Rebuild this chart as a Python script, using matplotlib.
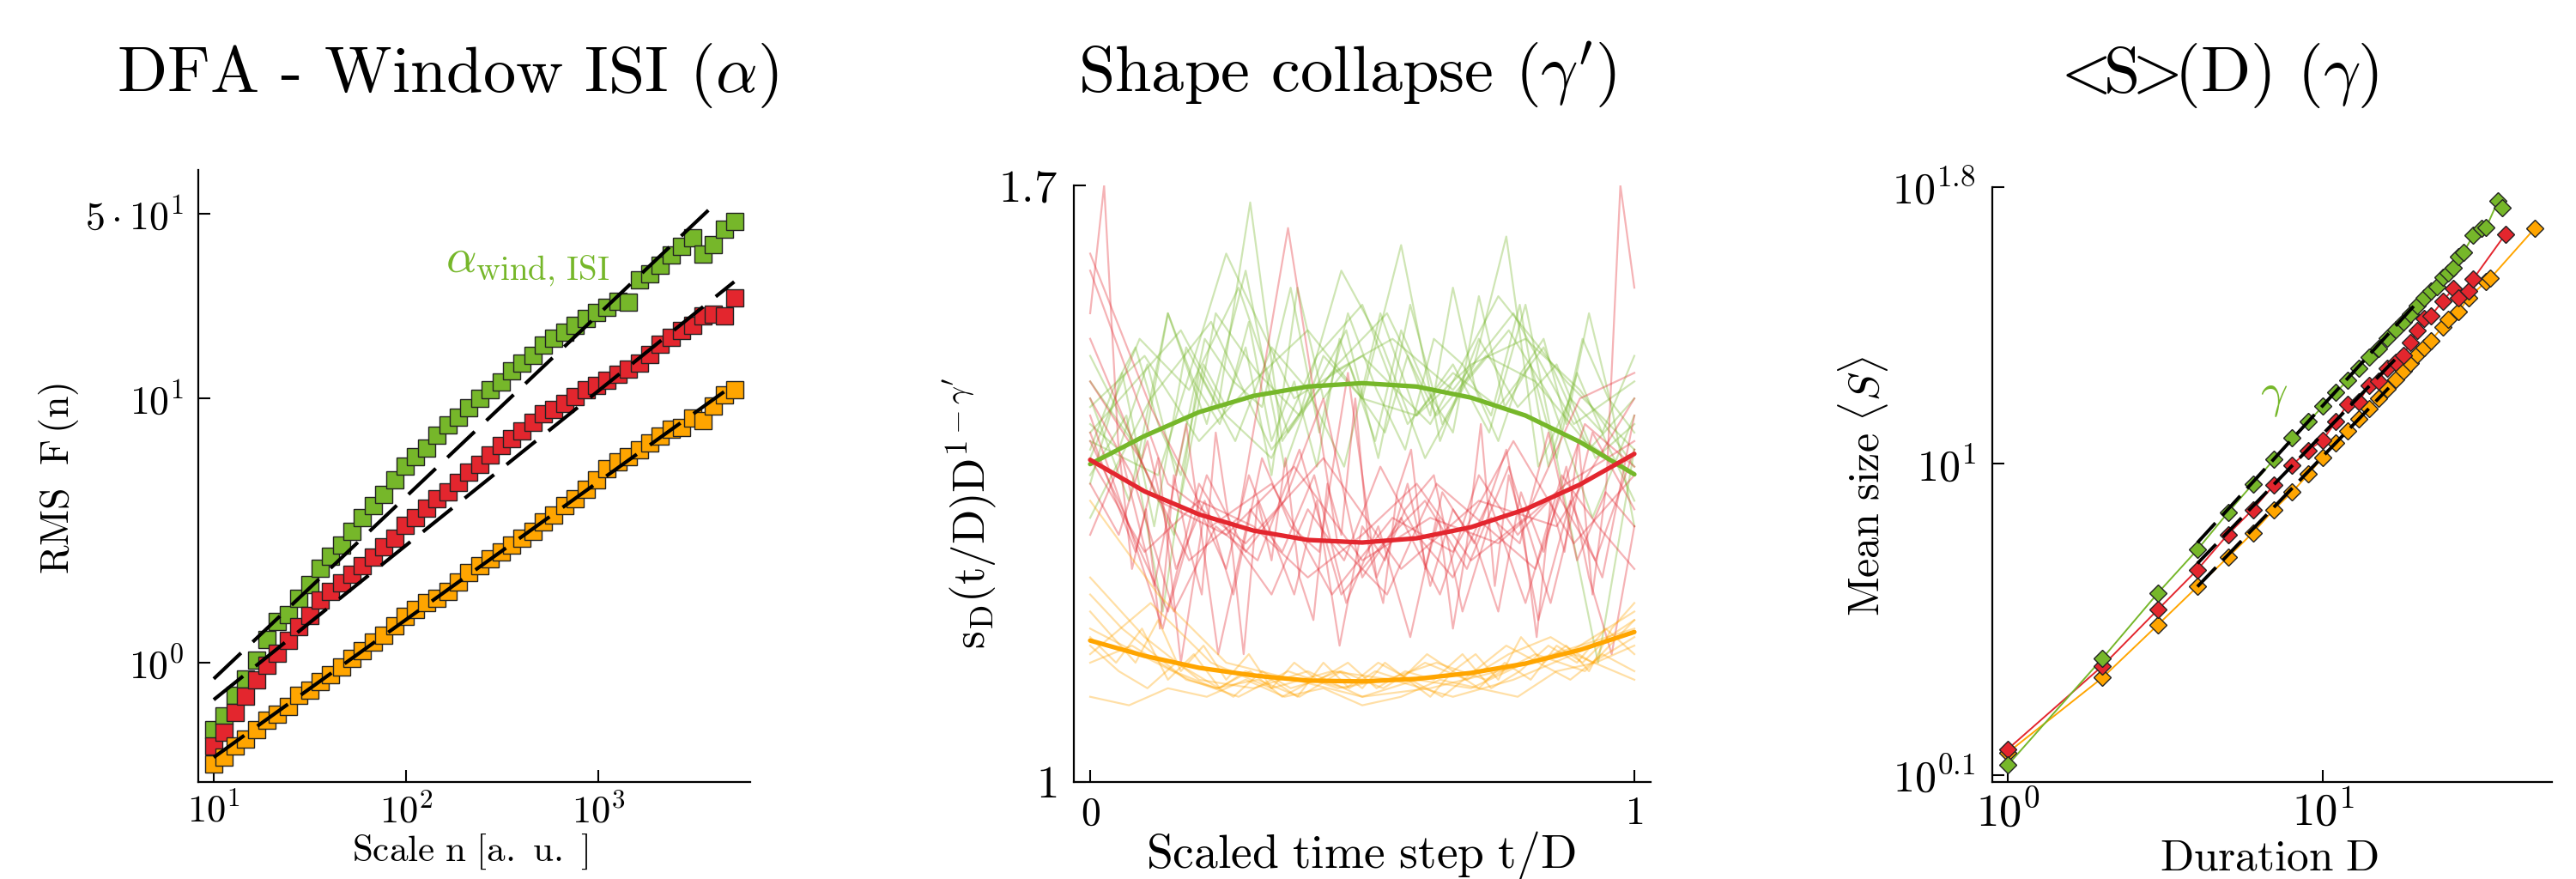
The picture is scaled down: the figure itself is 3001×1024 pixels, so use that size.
import numpy as np
import matplotlib
matplotlib.use("Agg")
import matplotlib.pyplot as plt
from matplotlib.ticker import NullLocator

plt.rcParams['font.family'] = 'cmr10'
plt.rcParams['mathtext.fontset'] = 'cm'
plt.rcParams['axes.unicode_minus'] = False
plt.rcParams['axes.formatter.use_mathtext'] = True

GREEN = '#76b72a'
RED = '#e3262e'
ORANGE = '#ffa500'

# ---------------- Panel 1: DFA ----------------
dfa_scales = [10, 11.36, 12.90, 14.65, 16.64, 18.90, 21.47, 24.39, 27.70, 31.46,
              35.73, 40.58, 46.10, 52.36, 59.47, 67.54, 76.72, 87.13, 98.97, 112.4,
              127.7, 145.0, 164.7, 187.1, 212.5, 241.4, 274.1, 311.4, 353.7, 401.7,
              456.2, 518.2, 588.6, 668.5, 759.3, 862.4, 979.5, 1113, 1264, 1435,
              1630, 1852, 2103, 2389, 2713, 3082, 3500, 3976, 4516, 5129]
dfa_green_log10F = [-0.253, -0.201, -0.122, -0.061, 0.009, 0.087, 0.157, 0.183, 0.245, 0.297,
                    0.358, 0.402, 0.446, 0.498, 0.550, 0.594, 0.638, 0.690, 0.743, 0.778,
                    0.813, 0.860, 0.900, 0.930, 0.965, 1.000, 1.034, 1.062, 1.104, 1.132,
                    1.162, 1.202, 1.227, 1.249, 1.276, 1.302, 1.324, 1.345, 1.366, 1.363,
                    1.447, 1.471, 1.503, 1.541, 1.576, 1.608, 1.546, 1.581, 1.639, 1.669]
dfa_red_log10F = [-0.315, -0.262, -0.189, -0.126, -0.066, -0.009, 0.035, 0.084, 0.136, 0.178,
                  0.236, 0.271, 0.301, 0.335, 0.367, 0.398, 0.437, 0.472, 0.521, 0.550,
                  0.585, 0.620, 0.647, 0.681, 0.720, 0.751, 0.786, 0.821, 0.847, 0.877,
                  0.909, 0.940, 0.958, 0.982, 1.005, 1.031, 1.048, 1.069, 1.092, 1.110,
                  1.132, 1.167, 1.206, 1.232, 1.258, 1.276, 1.311, 1.319, 1.311, 1.380]
dfa_orange_log10F = [-0.384, -0.358, -0.315, -0.288, -0.253, -0.218, -0.196, -0.166, -0.122, -0.105,
                     -0.070, -0.044, -0.017, 0.017, 0.044, 0.079, 0.105, 0.140, 0.175, 0.201,
                     0.227, 0.245, 0.271, 0.306, 0.341, 0.367, 0.393, 0.419, 0.446, 0.472,
                     0.498, 0.533, 0.559, 0.594, 0.620, 0.655, 0.690, 0.734, 0.760, 0.778,
                     0.804, 0.830, 0.856, 0.882, 0.891, 0.926, 0.917, 0.970, 1.013, 1.031]
dfa_fit_alpha = [0.689, 0.584, 0.521]
dfa_fit_log10F_at_10 = [-0.061, -0.140, -0.358]
dfa_fit_n_end = [4140, 5090, 4800]

# ---------------- Panel 2: shape collapse ----------------
shape_t = [0.0, 0.1, 0.2, 0.3, 0.4, 0.5, 0.6, 0.7, 0.8, 0.9, 1.0]
shape_green_mean = [1.373, 1.406, 1.434, 1.453, 1.464, 1.468, 1.464, 1.451, 1.430, 1.399, 1.361]
shape_red_mean = [1.378, 1.341, 1.314, 1.295, 1.284, 1.281, 1.286, 1.299, 1.320, 1.349, 1.385]
shape_orange_mean = [1.166, 1.148, 1.134, 1.125, 1.119, 1.118, 1.121, 1.128, 1.139, 1.155, 1.176]

shape_green_traces = [
    [1.38, 1.52, 1.46, 1.58, 1.41, 1.49, 1.55, 1.43, 1.50, 1.47, 1.40, 1.36],
    [1.45, 1.33, 1.55, 1.42, 1.60, 1.37, 1.50, 1.45, 1.63, 1.40, 1.52, 1.44, 1.49, 1.38, 1.42],
    [1.40, 1.36, 1.62, 1.45, 1.50, 1.42, 1.57, 1.47, 1.39],
    [1.35, 1.48, 1.30, 1.51, 1.44, 1.68, 1.40, 1.46, 1.53, 1.38, 1.56, 1.42, 1.49, 1.64, 1.37, 1.45, 1.41, 1.50],
    [1.42, 1.39, 1.49, 1.36, 1.52, 1.47, 1.44, 1.58, 1.41, 1.55, 1.46, 1.39, 1.52, 1.49, 1.43, 1.56, 1.37, 1.48, 1.40, 1.33],
    [1.31, 1.45, 1.54, 1.39, 1.48, 1.52, 1.46, 1.55, 1.42, 1.47],
    [1.47, 1.40, 1.29, 1.55, 1.48, 1.43, 1.60, 1.51, 1.38, 1.47, 1.53, 1.45, 1.31, 1.43],
    [1.50, 1.44, 1.38, 1.55, 1.47, 1.42, 1.51, 1.36, 1.58, 1.45, 1.49, 1.40, 1.53, 1.46, 1.41, 1.57, 1.44, 1.49, 1.38, 1.52, 1.45, 1.41],
    [1.36, 1.43, 1.20, 1.48, 1.40, 1.51, 1.46, 1.37, 1.55, 1.43, 1.49, 1.41, 1.56, 1.35, 1.14, 1.39],
    [1.44, 1.50, 1.40, 1.47, 1.53, 1.45, 1.43, 1.49, 1.52, 1.46, 1.37],
    [1.41, 1.47, 1.53, 1.43, 1.38, 1.50, 1.56, 1.42, 1.48, 1.44, 1.51, 1.39, 1.45],
    [1.39, 1.46, 1.51, 1.42, 1.36, 1.49, 1.44, 1.54, 1.40, 1.47, 1.37, 1.52, 1.45, 1.41, 1.50, 1.43, 1.58, 1.46, 1.40, 1.48, 1.52, 1.42, 1.55, 1.44, 1.30],
]
shape_red_traces = [
    [1.62, 1.44, 1.30, 1.35, 1.22, 1.31, 1.27, 1.40, 1.28, 1.36],
    [1.55, 1.70, 1.40, 1.25, 1.32, 1.18, 1.36, 1.28, 1.22, 1.41, 1.30, 1.15, 1.33, 1.26, 1.38, 1.24, 1.19, 1.35, 1.29, 1.45,
     1.27, 1.21, 1.34, 1.39, 1.25, 1.31, 1.18, 1.28, 1.42, 1.23, 1.36, 1.30, 1.17, 1.33, 1.27, 1.40, 1.22, 1.35, 1.70, 1.58],
    [1.60, 1.35, 1.28, 1.38, 1.25, 1.33, 1.30, 1.45],
    [1.43, 1.30, 1.20, 1.36, 1.27, 1.33, 1.45, 1.24, 1.31, 1.22, 1.36, 1.29, 1.34, 1.26, 1.39],
    [1.47, 1.38, 1.26, 1.31, 1.65, 1.28, 1.22, 1.35, 1.30, 1.25, 1.42, 1.37],
    [1.35, 1.29, 1.40, 1.25, 1.33, 1.22, 1.38, 1.30, 1.27, 1.48, 1.24, 1.32, 1.36, 1.20, 1.31, 1.28, 1.41, 1.26, 1.34, 1.30],
    [1.29, 1.38, 1.23, 1.42, 1.15, 1.32, 1.27, 1.36, 1.21, 1.30, 1.17, 1.34, 1.28, 1.39, 1.19, 1.33, 1.24, 1.43],
    [1.52, 1.33, 1.29, 1.37, 1.26, 1.31, 1.28, 1.35, 1.40],
    [1.45, 1.36, 1.20, 1.30, 1.26, 1.39, 1.22, 1.28, 1.33, 1.25, 1.37, 1.21, 1.41, 1.32],
    [1.41, 1.34, 1.27, 1.38, 1.14, 1.31, 1.25, 1.36, 1.29, 1.22, 1.33, 1.16, 1.30, 1.26, 1.35, 1.23, 1.32, 1.28, 1.20, 1.34, 1.27, 1.37, 1.24, 1.15, 1.30],
    [1.38, 1.27, 1.33, 1.30, 1.24, 1.29, 1.35, 1.26, 1.31, 1.45, 1.48],
    [1.40, 1.31, 1.18, 1.35, 1.28, 1.22, 1.32, 1.26, 1.37, 1.29, 1.24, 1.33, 1.21, 1.36, 1.30, 1.25],
]
shape_orange_traces = [
    [1.18, 1.15, 1.12, 1.10, 1.13, 1.11, 1.12, 1.14, 1.12, 1.15, 1.13, 1.19],
    [1.16, 1.13, 1.11, 1.14, 1.12, 1.10, 1.13, 1.11, 1.12, 1.14, 1.11, 1.13, 1.12, 1.15, 1.11, 1.13, 1.16, 1.14, 1.18, 1.15],
    [1.33, 1.22, 1.14, 1.12, 1.10, 1.11, 1.13, 1.15, 1.20],
    [1.10, 1.09, 1.11, 1.10, 1.12, 1.10, 1.11, 1.09, 1.10, 1.12, 1.11, 1.10, 1.13, 1.14, 1.16],
    [1.20, 1.17, 1.14, 1.19, 1.13, 1.16, 1.12, 1.15, 1.11, 1.14, 1.12, 1.13, 1.11, 1.14, 1.12, 1.10, 1.13, 1.15, 1.12, 1.17, 1.14, 1.16, 1.13, 1.18, 1.21],
    [1.15, 1.21, 1.14, 1.11, 1.13, 1.12, 1.10, 1.12, 1.15, 1.12],
    [1.22, 1.18, 1.15, 1.12, 1.11, 1.13, 1.10, 1.12, 1.11, 1.14, 1.12, 1.10, 1.13, 1.16, 1.14, 1.12, 1.15, 1.13],
    [1.14, 1.16, 1.13, 1.11, 1.12, 1.10, 1.13, 1.11, 1.14, 1.12, 1.15, 1.17, 1.14, 1.17],
    [1.17, 1.14, 1.18, 1.12, 1.15, 1.11, 1.13, 1.12, 1.10, 1.14, 1.11, 1.13, 1.12, 1.15, 1.13, 1.11, 1.14, 1.12, 1.16, 1.14, 1.17, 1.19],
    [1.24, 1.17, 1.12, 1.11, 1.13, 1.10, 1.12, 1.11, 1.14, 1.16, 1.18],
]

# ---------------- Panel 3: <S>(D) ----------------
size_green_D = [1, 2, 3, 4, 5, 6, 7, 8, 9, 10, 11, 12, 13, 14, 15, 16, 17, 18, 19, 20,
                21, 22, 23, 24, 25, 26, 27, 28, 30, 32, 33, 36, 37]
size_green_log10S = [0.129, 0.438, 0.627, 0.752, 0.859, 0.942, 1.013, 1.076, 1.122, 1.166,
                     1.206, 1.242, 1.277, 1.309, 1.333, 1.362, 1.388, 1.410, 1.433, 1.458,
                     1.480, 1.500, 1.513, 1.540, 1.553, 1.567, 1.600, 1.612, 1.660, 1.680,
                     1.683, 1.760, 1.740]
size_red_D = [1, 2, 3, 4, 5, 6, 7, 8, 9, 10, 11, 12, 13, 14, 15, 16, 17, 18, 19, 20,
              21, 22, 24, 26, 27, 29, 30, 38]
size_red_log10S = [0.175, 0.416, 0.579, 0.694, 0.796, 0.868, 0.939, 0.997, 1.039, 1.069,
                   1.122, 1.173, 1.179, 1.226, 1.240, 1.277, 1.293, 1.313, 1.352, 1.385,
                   1.420, 1.427, 1.470, 1.507, 1.480, 1.500, 1.534, 1.664]
size_orange_D = [1, 2, 3, 4, 5, 6, 7, 8, 9, 10, 11, 12, 13, 14, 15, 16, 17, 18, 19, 20,
                 21, 22, 24, 25, 27, 29, 33, 34, 47]
size_orange_log10S = [0.165, 0.382, 0.535, 0.645, 0.730, 0.801, 0.868, 0.919, 0.970, 1.019,
                      1.060, 1.096, 1.130, 1.160, 1.190, 1.218, 1.245, 1.268, 1.292, 1.315,
                      1.336, 1.356, 1.395, 1.418, 1.440, 1.480, 1.527, 1.536, 1.680]
size_fit_gamma = [0.996, 0.940, 0.946]
size_fit_log10S_at_4 = [0.772, 0.712, 0.645]
size_fit_D_end = [20.0, 17.5, 16.2]

# ---------------- Figure ----------------
W, H = 3001, 1024
fig = plt.figure(figsize=(W / 100, H / 100), dpi=100)


def axes_px(x0, y0, x1, y1):
    return fig.add_axes([x0 / W, 1 - y1 / H, (x1 - x0) / W, (y1 - y0) / H])


def style(ax, fs_x, fs_y, pad_x, pad_y):
    for s in ['top', 'right']:
        ax.spines[s].set_visible(False)
    for s in ['left', 'bottom']:
        ax.spines[s].set_linewidth(1.6)
    ax.tick_params(direction='in', length=10, width=1.5)
    ax.tick_params(axis='x', labelsize=fs_x, pad=pad_x)
    ax.tick_params(axis='y', labelsize=fs_y, pad=pad_y)
    ax.xaxis.set_minor_locator(NullLocator())
    ax.yaxis.set_minor_locator(NullLocator())


colors = [GREEN, RED, ORANGE]

# Panel 1
ax1 = axes_px(231, 198, 874, 911)
ax1.set_xscale('log')
ax1.set_yscale('log')
n_arr = np.array(dfa_scales)
for vals, c in zip([dfa_green_log10F, dfa_red_log10F, dfa_orange_log10F], colors):
    ax1.plot(n_arr, 10 ** np.array(vals), 's', ms=15, mfc=c, mec='#222222', mew=1.0, zorder=2)
for a, c0, ne in zip(dfa_fit_alpha, dfa_fit_log10F_at_10, dfa_fit_n_end):
    nn = np.array([10.0, ne])
    ax1.plot(nn, 10 ** (c0 + a * (np.log10(nn) - 1)), color='black', lw=3.0,
             dashes=(10.5, 4.5), zorder=3)
ax1.set_xlim(8.31, 6166)
ax1.set_ylim(0.3538, 73.06)
style(ax1, 32, 33, 10, 12)
ax1.set_xticks([10, 100, 1000])
ax1.set_xticklabels([r'$10^{1}$', r'$10^{2}$', r'$10^{3}$'])
ax1.set_yticks([1, 10, 50])
ax1.set_yticklabels([r'$10^{0}$', r'$10^{1}$', r'$5\cdot10^{1}$'])
ax1.xaxis.set_minor_locator(NullLocator())
ax1.yaxis.set_minor_locator(NullLocator())
fig.text(519 / W, 1 - 317 / H, r'$\alpha_{\mathrm{wind,\,ISI}}$', color=GREEN,
         fontsize=40, ha='left', va='baseline')

# Panel 2
ax2 = axes_px(1251, 216, 1923, 911)
for traces, c in zip([shape_green_traces, shape_red_traces, shape_orange_traces], colors):
    for tr in traces:
        t = np.linspace(0, 1, len(tr))
        ax2.plot(t, tr, color=c, alpha=0.35, lw=1.6, zorder=1)
for m, c in zip([shape_green_mean, shape_red_mean, shape_orange_mean], colors):
    ax2.plot(shape_t, m, color=c, lw=3.8, zorder=3, solid_capstyle='round')
ax2.set_xlim(-0.03, 1.03)
ax2.set_ylim(1.0, 1.7)
style(ax2, 33, 38, 12, 14)
ax2.set_xticks([0, 1])
ax2.set_xticklabels(['$0$', '$1$'])
ax2.set_yticks([1.0, 1.7])
ax2.set_yticklabels(['$1$', '$1.7$'])

# Panel 3
ax3 = axes_px(2321, 218, 2973, 911)
ax3.set_xscale('log')
ax3.set_yscale('log')
for D, ls, c in zip([size_orange_D, size_red_D, size_green_D],
                    [size_orange_log10S, size_red_log10S, size_green_log10S],
                    [ORANGE, RED, GREEN]):
    ax3.plot(D, 10 ** np.array(ls), '-', color=c, lw=1.4, zorder=2)
for D, ls, c in zip([size_orange_D, size_red_D, size_green_D],
                    [size_orange_log10S, size_red_log10S, size_green_log10S],
                    [ORANGE, RED, GREEN]):
    ax3.plot(D, 10 ** np.array(ls), 'D', ms=10.5, mfc=c, mec='#222222', mew=1.0, zorder=3)
for g, c0, de in zip(size_fit_gamma, size_fit_log10S_at_4, size_fit_D_end):
    dd = np.array([4.0, de])
    ax3.plot(dd, 10 ** (c0 + g * (np.log10(dd) - np.log10(4.0))), color='black', lw=2.8,
             dashes=(8, 3), zorder=4)
ax3.set_xlim(10 ** -0.049, 10 ** 1.7275)
ax3.set_ylim(10 ** 0.0801, 10 ** 1.8)
style(ax3, 38, 36, 7, 14)
ax3.set_xticks([1, 10])
ax3.set_xticklabels([r'$10^{0}$', r'$10^{1}$'])
ax3.set_yticks([10 ** 0.1, 10, 10 ** 1.8])
ax3.set_yticklabels([r'$10^{0.1}$', r'$10^{1}$', r'$10^{1.8}$'])
ax3.xaxis.set_minor_locator(NullLocator())
ax3.yaxis.set_minor_locator(NullLocator())
fig.text(2633 / W, 1 - 474 / H, r'$\gamma$', color=GREEN, fontsize=40,
         ha='left', va='baseline')

# Titles
tfs = 55
fig.text(521 / W, 1 - 107 / H, r'DFA - Window ISI ($\alpha$)', fontsize=tfs,
         ha='center', va='baseline')
fig.text(1570 / W, 1 - 107 / H, r"Shape collapse ($\gamma'$)", fontsize=tfs,
         ha='center', va='baseline')
fig.text(2588 / W, 1 - 107 / H, r'$\!\!<\!\!$S$\!\!>\!\!$(D) ($\gamma$)', fontsize=tfs,
         ha='center', va='baseline')

# Axis labels
fig.text(548 / W, 1 - 1003 / H, r'$\mathrm{Scale\ n\ [a.\ u.\ ]}$', fontsize=31,
         ha='center', va='baseline')
fig.text(68 / W, 1 - 557 / H, r'$\mathrm{RMS\ \ F\,(n)}$', fontsize=33,
         ha='center', va='center', rotation=90)
fig.text(1585 / W, 1 - 1011 / H, r'$\mathrm{Scaled\ time\ step\ t/D}$', fontsize=40,
         ha='center', va='baseline')
fig.text(1130 / W, 1 - 598 / H, r"$\mathrm{s_D(t/D)D^{1-\gamma'}}$", fontsize=38,
         ha='center', va='center', rotation=90)
fig.text(2644 / W, 1 - 1013 / H, r'$\mathrm{Duration\ D}$', fontsize=37,
         ha='center', va='baseline')
fig.text(2170 / W, 1 - 567 / H, r'$\mathrm{Mean\ size}\ \langle S\rangle$', fontsize=36,
         ha='center', va='center', rotation=90)

fig.savefig('out.png', dpi=100)
